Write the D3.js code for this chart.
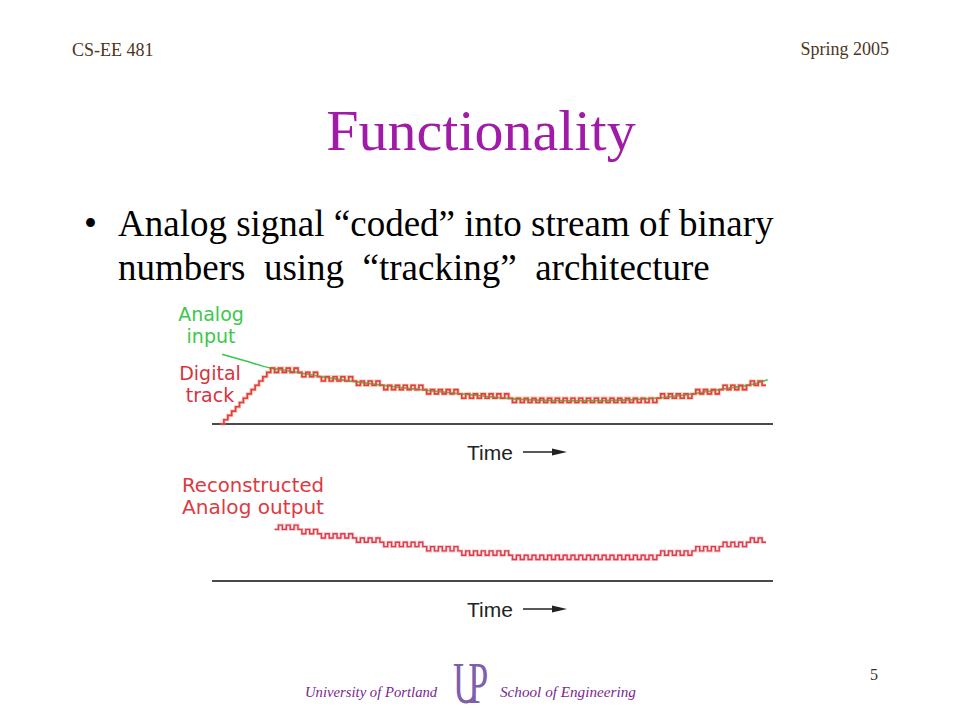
<!DOCTYPE html>
<html>
<head>
<meta charset="utf-8">
<script src="https://cdn.jsdelivr.net/npm/d3@7"></script>
<style>
  html, body { margin: 0; padding: 0; background: #ffffff; }
  svg { display: block; }
</style>
</head>
<body>
<svg id="slide" width="960" height="720"></svg>
<script>
// ---------- data ----------
const headerLeft = "CS-EE 481";
const headerRight = "Spring 2005";
const titleText = "Functionality";
const bulletLines = ["Analog signal \u201Ccoded\u201D into stream of binary",
                     "numbers\u00A0 using\u00A0 \u201Ctracking\u201D\u00A0 architecture"];
const pageNumber = "5";
const footerLeft = "University of Portland";
const footerRight = "School of Engineering";
const logoText = "UP";

// digital track: counter level (LSB units) per clock tick
const trackLevels = [
  0,1,2,3,4,5,6,7,8,9,10,11,12,
  13,12,13,12,13,12,13,
  12,11,12,11,12,11,
  10,11,10,11,10,11,10,11,
  10,9,10,9,10,9,10,9,
  8,9,8,9,8,9,8,9,8,9,
  8,7,8,7,8,7,8,7,8,7,
  6,7,6,7,6,7,6,7,6,7,6,7,
  6,5,6,5,6,5,6,5,6,5,6,5,6,5,6,5,6,5,6,5,6,5,6,5,6,5,6,5,6,5,6,5,6,5,6,5,6,5,
  6,7,6,7,6,7,6,7,6,7,
  8,7,8,7,8,7,
  8,9,8,9,8,9,8,9,
  10,9,10,9
];
// analog input (tick, level)
const analogTime  = [0.5, 6.4, 13, 16.7, 22.8, 29.5, 37.4, 46.4, 56.4, 67.4, 79.5, 92, 105, 117, 124.6, 131.5, 137.7, 140.4];
const analogLevel = [16.2, 14.7, 13.0, 12.5, 11.5, 10.5, 9.5, 8.5, 7.5, 6.5, 5.6, 5.4, 5.6, 6.5, 7.5, 8.5, 9.5, 10.3];
// reconstructed output starts after the initial acquisition ramp
const reconstructStart = 14;

const topLabels = ["Analog", "input"];
const trackLabels = ["Digital", "track"];
const outLabels = ["Reconstructed", "Analog output"];
const axisLabel = "Time";

// ---------- drawing ----------
const svg = d3.select("#slide");
const serif = "'Liberation Serif', 'Times New Roman', serif";
const sans = "'Liberation Sans', Arial, sans-serif";
const roundSans = "'DejaVu Sans', sans-serif";

// header
svg.append("text").attr("x", 72).attr("y", 56).attr("font-family", serif)
  .attr("font-size", 18).attr("fill", "#4b3621").text(headerLeft);
svg.append("text").attr("x", 889).attr("y", 55).attr("text-anchor", "end").attr("font-family", serif)
  .attr("font-size", 18).attr("fill", "#4b3621").text(headerRight);

// title
svg.append("text").attr("x", 481).attr("y", 150).attr("text-anchor", "middle")
  .attr("font-family", serif).attr("font-size", 58).attr("fill", "#a01ca8").text(titleText);

// bullet
svg.append("text").attr("x", 84).attr("y", 236).attr("font-family", serif)
  .attr("font-size", 37).attr("fill", "#000").text("\u2022");
svg.selectAll("text.bl").data(bulletLines).join("text").attr("class", "bl")
  .attr("x", 118).attr("y", (d, i) => 236 + i * 44)
  .attr("font-family", serif).attr("font-size", 37).attr("fill", "#000")
  .attr("xml:space", "preserve").style("white-space", "pre")
  .text(d => d);

// scales
const nTicks = trackLevels.length;
const x = d3.scaleLinear().domain([0, nTicks]).range([220, 766]);
const lsb = 4.3;
const yTop = d3.scaleLinear().domain([0, 16]).range([424, 424 - 16 * lsb]);
const yBot = d3.scaleLinear().domain([0, 16]).range([581, 581 - 16 * lsb]);

const trackPts = trackLevels.map((v, i) => [i, v]);
trackPts.push([nTicks, trackLevels[nTicks - 1]]);
const analogPts = analogTime.map((t, i) => [t, analogLevel[i]]);

// baselines (time axes)
[yTop, yBot].forEach(y => {
  svg.append("line").attr("x1", 212).attr("x2", 773)
    .attr("y1", y(0)).attr("y2", y(0))
    .attr("stroke", "#4a4a4a").attr("stroke-width", 2);
});

// top panel: analog input + digital track
const stepLine = y => d3.line().x(d => x(d[0])).y(d => y(d[1])).curve(d3.curveStepAfter);
const smoothLine = y => d3.line().x(d => x(d[0])).y(d => y(d[1])).curve(d3.curveMonotoneX);

svg.append("path").attr("d", smoothLine(yTop)(analogPts))
  .attr("fill", "none").attr("stroke", "#3cc84a").attr("stroke-width", 1.6);
svg.append("path").attr("d", stepLine(yTop)(trackPts))
  .attr("fill", "none").attr("stroke", "#f08070").attr("stroke-width", 3.2).attr("opacity", 0.5);
svg.append("path").attr("d", stepLine(yTop)(trackPts))
  .attr("fill", "none").attr("stroke", "#e0403a").attr("stroke-width", 1.6);
svg.append("path").attr("d", smoothLine(yTop)(analogPts.filter(d => d[0] >= 13)))
  .attr("fill", "none").attr("stroke", "#6ab040").attr("stroke-width", 0.9).attr("opacity", 0.55);

// bottom panel: reconstructed output
const recPts = trackPts.filter(d => d[0] >= reconstructStart);
svg.append("path").attr("d", stepLine(yBot)(recPts))
  .attr("fill", "none").attr("stroke", "#f0909a").attr("stroke-width", 3).attr("opacity", 0.5);
svg.append("path").attr("d", stepLine(yBot)(recPts))
  .attr("fill", "none").attr("stroke", "#dc3c4c").attr("stroke-width", 1.4);

// labels
svg.selectAll("text.al").data(topLabels).join("text").attr("class", "al")
  .attr("x", 211).attr("y", (d, i) => 321 + i * 22).attr("text-anchor", "middle")
  .attr("font-family", roundSans).attr("font-size", 19).attr("fill", "#3cc84a").text(d => d);
svg.selectAll("text.dl").data(trackLabels).join("text").attr("class", "dl")
  .attr("x", 210).attr("y", (d, i) => 380 + i * 22).attr("text-anchor", "middle")
  .attr("font-family", roundSans).attr("font-size", 19).attr("fill", "#d8323c").text(d => d);
svg.selectAll("text.ol").data(outLabels).join("text").attr("class", "ol")
  .attr("x", 182).attr("y", (d, i) => 492 + i * 22)
  .attr("font-family", roundSans).attr("font-size", 18.8).attr("fill", "#dd3a42")
  .attr("textLength", 142).attr("lengthAdjust", "spacingAndGlyphs").text(d => d);

// time labels with arrows
[yTop, yBot].forEach(y => {
  const by = y(0) + 36;
  svg.append("text").attr("x", 467).attr("y", by).attr("font-family", sans)
    .attr("font-size", 21).attr("fill", "#222").text(axisLabel);
  svg.append("line").attr("x1", 523).attr("x2", 556).attr("y1", by - 8).attr("y2", by - 8)
    .attr("stroke", "#222").attr("stroke-width", 1.5);
  svg.append("path").attr("d", `M552,${by - 11.5} L567,${by - 8} L552,${by - 4.5} Z`).attr("fill", "#222");
});

// footer
svg.append("text").attr("x", 878).attr("y", 680).attr("text-anchor", "end").attr("font-family", serif)
  .attr("font-size", 16).attr("fill", "#333").text(pageNumber);
svg.append("text").attr("x", 305).attr("y", 697).attr("font-family", serif).attr("font-style", "italic")
  .attr("font-size", 14.7).attr("fill", "#7b1f8e").text(footerLeft);
svg.append("text").attr("x", 500).attr("y", 697).attr("font-family", serif).attr("font-style", "italic")
  .attr("font-size", 15.2).attr("fill", "#7b1f8e").text(footerRight);
svg.append("text").attr("transform", "translate(453,703) scale(0.6,1)")
  .attr("font-family", serif).attr("font-size", 60).attr("fill", "#7d5fab")
  .attr("letter-spacing", -18).text(logoText);
</script>
</body>
</html>
